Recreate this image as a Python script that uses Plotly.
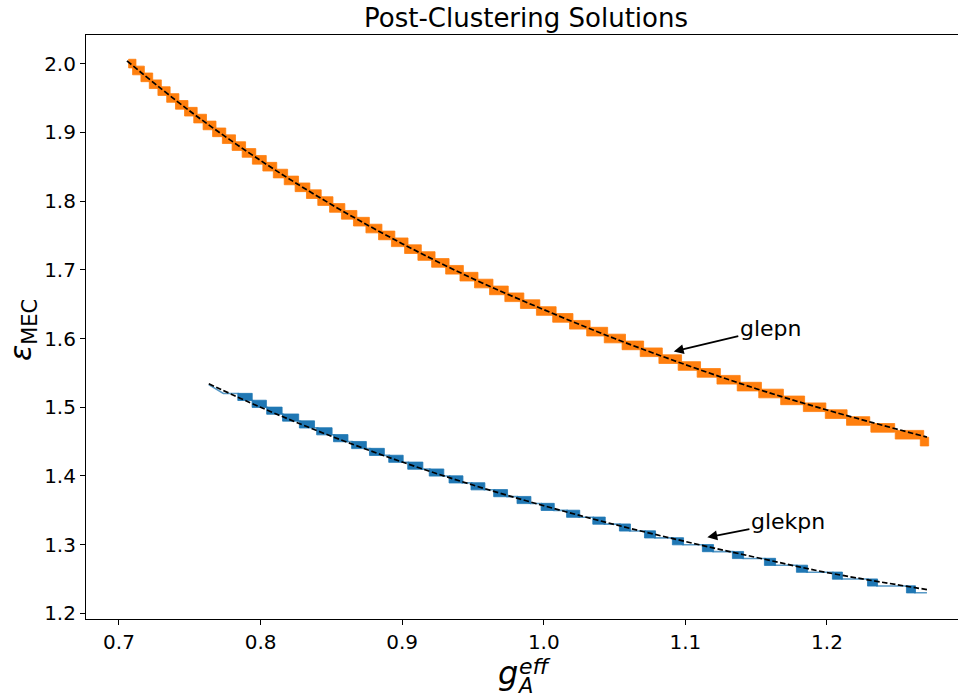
import plotly.graph_objects as go

# ---------------- data ----------------
# glepn (orange): centre level of each plateau and its x extent
orange_level = [2.00, 1.99, 1.98, 1.97, 1.96, 1.95, 1.94, 1.93, 1.92, 1.91,
                1.90, 1.89, 1.88, 1.87, 1.86, 1.85, 1.84, 1.83, 1.82, 1.81,
                1.80, 1.79, 1.78, 1.77, 1.76, 1.75, 1.74, 1.73, 1.72, 1.71,
                1.70, 1.69, 1.68, 1.67, 1.66, 1.65, 1.64, 1.63, 1.62, 1.61,
                1.60, 1.59, 1.58, 1.57, 1.56, 1.55, 1.54, 1.53, 1.52, 1.51,
                1.50, 1.49, 1.48, 1.47, 1.46, 1.45]
orange_x0 = [0.7080, 0.7108, 0.7167, 0.7226, 0.7287, 0.7349, 0.7411, 0.7475, 0.7540, 0.7606,
             0.7673, 0.7742, 0.7811, 0.7882, 0.7954, 0.8028, 0.8102, 0.8179, 0.8256, 0.8336,
             0.8416, 0.8499, 0.8583, 0.8668, 0.8756, 0.8845, 0.8936, 0.9029, 0.9123, 0.9220,
             0.9319, 0.9420, 0.9523, 0.9629, 0.9737, 0.9847, 0.9960, 1.0075, 1.0194, 1.0315,
             1.0439, 1.0565, 1.0693, 1.0825, 1.0961, 1.1095, 1.1235, 1.1378, 1.1530, 1.1685,
             1.1845, 1.2000, 1.2150, 1.2322, 1.2494, 1.2671]
orange_x1 = [0.7108, 0.7167, 0.7226, 0.7287, 0.7349, 0.7411, 0.7475, 0.7540, 0.7606, 0.7673,
             0.7742, 0.7811, 0.7882, 0.7954, 0.8028, 0.8102, 0.8179, 0.8256, 0.8336, 0.8416,
             0.8499, 0.8583, 0.8668, 0.8756, 0.8845, 0.8936, 0.9029, 0.9123, 0.9220, 0.9319,
             0.9420, 0.9523, 0.9629, 0.9737, 0.9847, 0.9960, 1.0075, 1.0194, 1.0315, 1.0439,
             1.0565, 1.0693, 1.0825, 1.0961, 1.1095, 1.1235, 1.1375, 1.1525, 1.1680, 1.1830,
             1.1980, 1.2130, 1.2290, 1.2466, 1.2671, 1.2706]
# glepn fitted curve (dashed)
orange_fit_x = [0.7056, 0.75, 0.80, 0.85, 0.90, 0.95, 1.00, 1.05, 1.10, 1.15, 1.20, 1.2706]
orange_fit_y = [2.004, 1.931, 1.859, 1.795, 1.738, 1.687, 1.642, 1.600, 1.562, 1.527, 1.496, 1.4565]

# glekpn (blue): centre level of each transition block and its x extent
blue_level = [1.515, 1.505, 1.495, 1.485, 1.475, 1.465, 1.455, 1.445, 1.435, 1.425,
              1.415, 1.405, 1.395, 1.385, 1.375, 1.365, 1.355, 1.345, 1.335, 1.325,
              1.315, 1.305, 1.295, 1.285, 1.275, 1.265, 1.255, 1.245, 1.235]
blue_x0 = [0.7843, 0.7944, 0.8047, 0.8159, 0.8278, 0.8400, 0.8519, 0.8647, 0.8773, 0.8909,
           0.9043, 0.9195, 0.9335, 0.9490, 0.9650, 0.9815, 0.9985, 1.0165, 1.0350, 1.0538,
           1.0715, 1.0912, 1.1124, 1.1336, 1.1562, 1.1788, 1.2042, 1.2290, 1.2565]
blue_x1 = [0.7937, 0.8037, 0.8148, 0.8265, 0.8377, 0.8501, 0.8613, 0.8743, 0.8870, 0.9003,
           0.9142, 0.9290, 0.9425, 0.9580, 0.9740, 0.9905, 1.0070, 1.0250, 1.0430, 1.0608,
           1.0785, 1.0983, 1.1195, 1.1407, 1.1633, 1.1859, 1.2105, 1.2353, 1.2621]
blue_head_x = [0.7634, 0.7737]
blue_head_y = [1.533, 1.520]
blue_tail_x = [1.2706]
blue_tail_y = [1.230]
# glekpn fitted curve (dashed)
blue_fit_x = [0.7634, 0.80, 0.85, 0.90, 0.95, 1.00, 1.05, 1.10, 1.15, 1.20, 1.2706]
blue_fit_y = [1.5342, 1.4999, 1.4578, 1.4203, 1.3868, 1.3567, 1.3294, 1.3046, 1.2815, 1.2595, 1.2347]

x_ticks = [0.7, 0.8, 0.9, 1.0, 1.1, 1.2]
y_ticks = [1.2, 1.3, 1.4, 1.5, 1.6, 1.7, 1.8, 1.9, 2.0]

# labels / annotations (text centre and arrow head, in data units)
title_text = "Post-Clustering Solutions"
labels = [
    dict(name="glepn", text_x=1.1603, text_y=1.6149, head=(1.0918, 1.5811)),
    dict(name="glekpn", text_x=1.1724, text_y=1.3335, head=(1.1155, 1.3108)),
]

# ---------------- styling ----------------
ORANGE = "#ff7f0e"
BLUE = "#1f77b4"
FONT = "DejaVu Sans"
STEP = 0.005          # half of the 0.01 resolution
O_HALF = 0.0063
B_HALF = 0.0052
O_PAD = 0.0012        # slight horizontal overlap of orange blocks
B_PAD = 0.0004

W, H = 958, 697
L_M, R_M, T_M, B_M = 86, 0, 35, 78
PW, PH = W - L_M - R_M, H - T_M - B_M


def px(xp):
    return (xp - L_M) / PW


def py(yp):
    return (H - B_M - yp) / PH


def rects(levels, x0, x1, half, pad):
    xs, ys = [], []
    for lv, a, b in zip(levels, x0, x1):
        a, b = a - pad, b + pad
        xs += [a, b, b, a, a, None]
        ys += [lv + half, lv + half, lv - half, lv - half, lv + half, None]
    return xs, ys


def edge(levels, x0, x1, hx=(), hy=(), tx=(), ty=()):
    xs, ys = list(hx), list(hy)
    for lv, a, b in zip(levels, x0, x1):
        xs += [a, b]
        ys += [lv + STEP, lv - STEP]
    return xs + list(tx), ys + list(ty)


fig = go.Figure()

for lev, x0, x1, half, pad, col, hx, hy, tx, ty in [
    (orange_level, orange_x0, orange_x1, O_HALF, O_PAD, ORANGE, [], [], [], []),
    (blue_level, blue_x0, blue_x1, B_HALF, B_PAD, BLUE, blue_head_x, blue_head_y, blue_tail_x, blue_tail_y),
]:
    ex, ey = edge(lev, x0, x1, hx, hy, tx, ty)
    fig.add_trace(go.Scatter(x=ex, y=ey, mode="lines", line=dict(color=col, width=1.6),
                             opacity=0.75, hoverinfo="skip", showlegend=False))
    rx, ry = rects(lev, x0, x1, half, pad)
    fig.add_trace(go.Scatter(x=rx, y=ry, mode="lines", fill="toself", fillcolor=col,
                             line=dict(color=col, width=0.8), hoverinfo="skip", showlegend=False))

for fx, fy in [(orange_fit_x, orange_fit_y), (blue_fit_x, blue_fit_y)]:
    fig.add_trace(go.Scatter(x=fx, y=fy, mode="lines",
                             line=dict(color="black", width=1.7, dash="5.5px,2.5px", shape="spline"),
                             hoverinfo="skip", showlegend=False))

annotations = []
for lab in labels:
    annotations.append(dict(x=lab["head"][0], y=lab["head"][1], ax=lab["text_x"], ay=lab["text_y"],
                            xref="x", yref="y", axref="x", ayref="y", text=lab["name"], showarrow=True,
                            arrowhead=2, arrowsize=1.1, arrowwidth=1.8, arrowcolor="black", standoff=0,
                            font=dict(family=FONT, size=22, color="black")))

# title
annotations.append(dict(x=px(525.5), y=py(18.4), xref="paper", yref="paper", text=title_text,
                        showarrow=False, xanchor="center", yanchor="middle",
                        font=dict(family=FONT, size=26, color="black")))
# x-axis label  g_A^eff
annotations.append(dict(x=px(508), y=py(672.5), xref="paper", yref="paper", text="<i>g</i>",
                        showarrow=False, xanchor="center", yanchor="middle",
                        font=dict(family=FONT, size=32, color="black")))
annotations.append(dict(x=px(516.5), y=py(667), xref="paper", yref="paper", text="<i>eff</i>",
                        showarrow=False, xanchor="left", yanchor="middle",
                        font=dict(family=FONT, size=22, color="black")))
annotations.append(dict(x=px(515), y=py(685.5), xref="paper", yref="paper", text="<i>A</i>",
                        showarrow=False, xanchor="left", yanchor="middle",
                        font=dict(family=FONT, size=21, color="black")))
# y-axis label  epsilon_MEC
annotations.append(dict(x=px(22), y=py(330), xref="paper", yref="paper",
                        text="<i>ε</i><sub>MEC</sub>", textangle=-90,
                        showarrow=False, xanchor="center", yanchor="middle",
                        font=dict(family=FONT, size=30, color="black")))

x_range = [0.6767, 0.6767 + PW / 1416.0]
y_range = [1.1919, 1.1919 + PH / 687.3]

fig.update_layout(
    width=W, height=H,
    margin=dict(l=L_M, r=R_M, t=T_M, b=B_M, pad=0),
    paper_bgcolor="white", plot_bgcolor="white",
    showlegend=False,
    annotations=annotations,
    xaxis=dict(range=x_range, tickvals=x_ticks, ticktext=[f"{v:.1f}" for v in x_ticks],
               showgrid=False, zeroline=False, showline=True, linecolor="black", linewidth=1.1,
               mirror=True, ticks="outside", ticklen=5, tickwidth=1.1, tickcolor="black",
               tickfont=dict(family=FONT, size=20, color="black")),
    yaxis=dict(range=y_range, tickvals=y_ticks, ticktext=[f"{v:.1f}" for v in y_ticks],
               showgrid=False, zeroline=False, showline=True, linecolor="black", linewidth=1.1,
               mirror=False, ticks="outside", ticklen=5, tickwidth=1.1, tickcolor="black",
               tickfont=dict(family=FONT, size=20, color="black")),
)

fig.write_html("out.html")
